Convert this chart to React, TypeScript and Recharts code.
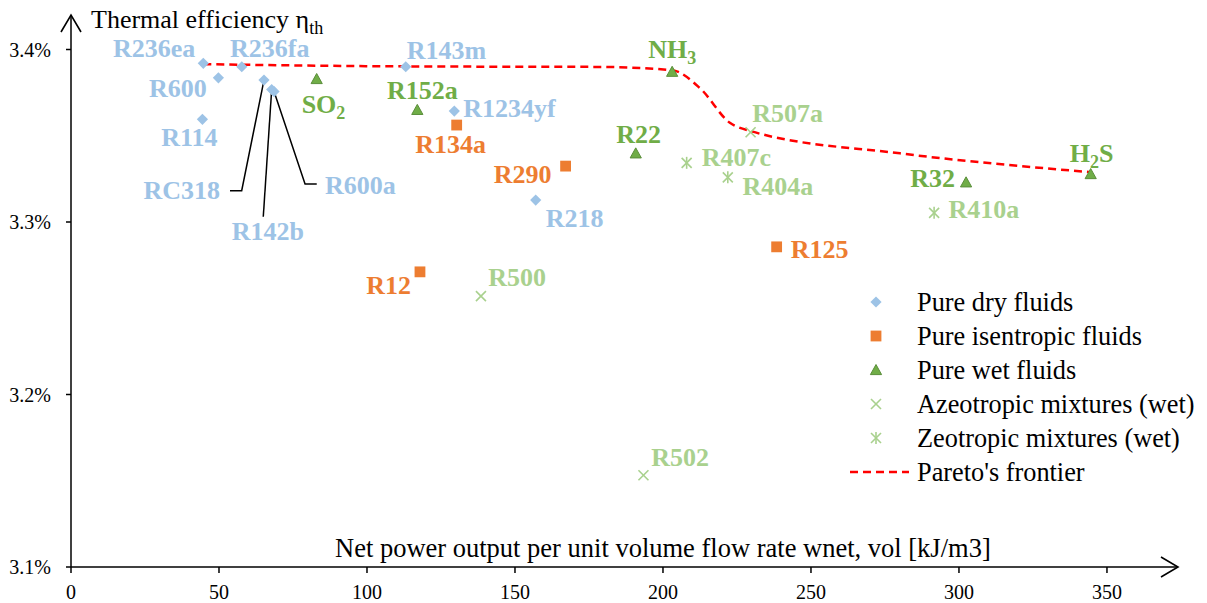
import React from 'react';
import { ComposedChart, Scatter, Line, XAxis, YAxis, ReferenceDot } from 'recharts';

const FONT = '"Liberation Serif", "Times New Roman", Times, serif';

// ---- data (x: net power output per unit volume flow [kJ/m3], y: thermal efficiency [%]) ----
const dryFluids = [
  { name: 'R236ea', x: 44.7, y: 3.392 },
  { name: 'R600', x: 49.8, y: 3.3836 },
  { name: 'R236fa', x: 57.7, y: 3.39 },
  { name: 'R114', x: 44.4, y: 3.3595 },
  { name: 'RC318', x: 65.2, y: 3.3823 },
  { name: 'R142b', x: 67.8, y: 3.3768 },
  { name: 'R600a', x: 68.6, y: 3.3756 },
  { name: 'R143m', x: 113.1, y: 3.39 },
  { name: 'R1234yf', x: 129.5, y: 3.3643 },
  { name: 'R218', x: 157.0, y: 3.3127 },
];
const isentropicFluids = [
  { name: 'R134a', x: 130.3, y: 3.3562 },
  { name: 'R290', x: 167.1, y: 3.3324 },
  { name: 'R12', x: 117.9, y: 3.2711 },
  { name: 'R125', x: 238.4, y: 3.2856 },
];
const wetFluids = [
  { name: 'SO2', x: 83.0, y: 3.3829 },
  { name: 'R152a', x: 117.0, y: 3.365 },
  { name: 'NH3', x: 203.1, y: 3.3871 },
  { name: 'R22', x: 190.8, y: 3.3398 },
  { name: 'R32', x: 302.4, y: 3.323 },
  { name: 'H2S', x: 344.5, y: 3.3278 },
];
const azeotropicMixtures = [
  { name: 'R507a', x: 229.6, y: 3.352 },
  { name: 'R500', x: 138.5, y: 3.257 },
  { name: 'R502', x: 193.4, y: 3.1532 },
];
const zeotropicMixtures = [
  { name: 'R407c', x: 208.0, y: 3.3343 },
  { name: 'R404a', x: 221.9, y: 3.3259 },
  { name: 'R410a', x: 291.6, y: 3.3053 },
];
const paretoFrontier = [
  { x: 44.7, y: 3.3915 },
  { x: 113.1, y: 3.3902 },
  { x: 178.7, y: 3.3899 },
  { x: 203.1, y: 3.388 },
  { x: 212.5, y: 3.3776 },
  { x: 222.6, y: 3.3575 },
  { x: 229.6, y: 3.3527 },
  { x: 280.1, y: 3.3398 },
  { x: 344.5, y: 3.3289 },
];
const xTicks = [0, 50, 100, 150, 200, 250, 300, 350];
const yTicks = [3.1, 3.2, 3.3, 3.4];
const X_MIN = 0;
const X_MAX = 374;
const Y_MIN = 3.1;
const Y_MAX = 3.42;

const legendItems = [
  { kind: 'diamond', label: 'Pure dry fluids' },
  { kind: 'square', label: 'Pure isentropic fluids' },
  { kind: 'triangle', label: 'Pure wet fluids' },
  { kind: 'cross', label: 'Azeotropic mixtures (wet)' },
  { kind: 'asterisk', label: 'Zeotropic mixtures (wet)' },
  { kind: 'dash', label: "Pareto's frontier" },
];

// ---- styles ----
const COLORS: Record<string, string> = {
  diamond: '#9DC3E6',
  square: '#ED7D31',
  triangle: '#70AD47',
  triangleEdge: '#5A8E3A',
  cross: '#A9D18E',
  asterisk: '#A9D18E',
  pareto: '#FF0000',
};

type Lay = { dx: number; dy: number; anchor: 'start' | 'middle' | 'end'; leader?: number[][] };
const labelLayout: Record<string, Lay> = {
  R236ea: { dx: -8, dy: -6, anchor: 'end' },
  R600: { dx: -11.6, dy: 19, anchor: 'end' },
  R236fa: { dx: -11.7, dy: -9.4, anchor: 'start' },
  R114: { dx: -13, dy: 26.4, anchor: 'middle' },
  R143m: { dx: 1, dy: -7.4, anchor: 'start' },
  SO2: { dx: -15, dy: 34, anchor: 'start' },
  R152a: { dx: 5, dy: -11, anchor: 'middle' },
  R1234yf: { dx: 9, dy: 5.7, anchor: 'start' },
  R134a: { dx: -6, dy: 28.3, anchor: 'middle' },
  RC318: { dx: -44, dy: 119.3, anchor: 'end', leader: [[-22.3, 110.7], [-34, 110.7]] },
  R142b: { dx: -3.7, dy: 150.5, anchor: 'middle', leader: [[-8.4, 127.2]] },
  R600a: { dx: 51, dy: 102.5, anchor: 'start', leader: [[31, 92.5], [42.7, 92.5]] },
  NH3: { dx: 0, dy: -13.4, anchor: 'middle' },
  R22: { dx: 3, dy: -10, anchor: 'middle' },
  R290: { dx: -14, dy: 16.7, anchor: 'end' },
  R218: { dx: 10, dy: 26.7, anchor: 'start' },
  R507a: { dx: 1.7, dy: -10.6, anchor: 'start' },
  R407c: { dx: 15, dy: 3, anchor: 'start' },
  R404a: { dx: 14.7, dy: 17.7, anchor: 'start' },
  R125: { dx: 14, dy: 11.3, anchor: 'start' },
  H2S: { dx: 1, dy: -11.7, anchor: 'middle' },
  R32: { dx: -11, dy: 4.4, anchor: 'end' },
  R410a: { dx: 14.3, dy: 5.6, anchor: 'start' },
  R12: { dx: -9, dy: 22.3, anchor: 'end' },
  R500: { dx: 7.3, dy: -10, anchor: 'start' },
  R502: { dx: 7.7, dy: -9, anchor: 'start' },
};

const SUBSCRIPTED: Record<string, [string, string, string]> = {
  SO2: ['SO', '2', ''],
  NH3: ['NH', '3', ''],
  H2S: ['H', '2', 'S'],
};

function Marker({ kind, cx, cy }: { kind: string; cx: number; cy: number }) {
  if (kind === 'diamond') {
    const r = 5.6;
    return <path d={`M${cx},${cy - r}L${cx + r},${cy}L${cx},${cy + r}L${cx - r},${cy}Z`} fill={COLORS.diamond} />;
  }
  if (kind === 'square') {
    const h = 5.4;
    return <rect x={cx - h} y={cy - h} width={2 * h} height={2 * h} fill={COLORS.square} />;
  }
  if (kind === 'triangle') {
    return (
      <path
        d={`M${cx},${cy - 5.5}L${cx + 5.6},${cy + 4.6}L${cx - 5.6},${cy + 4.6}Z`}
        fill={COLORS.triangle}
        stroke={COLORS.triangleEdge}
        strokeWidth={1}
      />
    );
  }
  if (kind === 'cross' || kind === 'asterisk') {
    const r = 5;
    return (
      <g stroke={COLORS.cross} strokeWidth={1.6}>
        <line x1={cx - r} y1={cy - r} x2={cx + r} y2={cy + r} />
        <line x1={cx - r} y1={cy + r} x2={cx + r} y2={cy - r} />
        {kind === 'asterisk' && <line x1={cx} y1={cy - r - 1} x2={cx} y2={cy + r + 1} />}
      </g>
    );
  }
  return null;
}

function makeShape(kind: string) {
  return (props: any) => {
    const { cx, cy, payload } = props;
    if (cx == null || cy == null || !payload) return <g />;
    const lay = labelLayout[payload.name] || { dx: 8, dy: -8, anchor: 'start' };
    const sub = SUBSCRIPTED[payload.name];
    const pts = lay.leader ? [[0, 0], ...lay.leader].map((p) => `${cx + p[0]},${cy + p[1]}`).join(' ') : null;
    return (
      <g>
        {pts && <polyline points={pts} fill="none" stroke="#000" strokeWidth={1.5} />}
        <Marker kind={kind} cx={cx} cy={cy} />
        <text
          x={cx + lay.dx}
          y={cy + lay.dy}
          textAnchor={lay.anchor}
          fill={COLORS[kind]}
          fontWeight="bold"
          fontSize={26}
          fontFamily={FONT}
        >
          {sub ? (
            <>
              {sub[0]}
              <tspan fontSize={18} dy={6}>
                {sub[1]}
              </tspan>
              {sub[2] ? <tspan dy={-6}>{sub[2]}</tspan> : null}
            </>
          ) : (
            payload.name
          )}
        </text>
      </g>
    );
  };
}

const ArrowRight = (props: any) => {
  const { cx, cy } = props;
  return <polyline points={`${cx - 17},${cy - 10} ${cx},${cy} ${cx - 17},${cy + 10}`} fill="none" stroke="#000" strokeWidth={1.6} />;
};
const ArrowUp = (props: any) => {
  const { cx, cy } = props;
  return <polyline points={`${cx - 10},${cy + 17} ${cx},${cy} ${cx + 10},${cy + 17}`} fill="none" stroke="#000" strokeWidth={1.6} />;
};

const XTitle = (p: any) => {
  const vb = p.viewBox || { x: 71, y: 567, width: 1107 };
  return (
    <text x={vb.x + 264} y={vb.y - 10} fontSize={26.5} fontFamily={FONT} fill="#000">
      Net power output per unit volume flow rate wnet, vol [kJ/m3]
    </text>
  );
};
const YTitle = (p: any) => {
  const vb = p.viewBox || { x: 11, y: 15, width: 60 };
  return (
    <text x={vb.x + vb.width + 20} y={vb.y + 13} fontSize={26} fontFamily={FONT} fill="#000">
      Thermal efficiency η
      <tspan fontSize={18} dy={6}>
        th
      </tspan>
    </text>
  );
};

function LegendOverlay() {
  const x0 = 876;
  const tx = 917;
  const y0 = 302;
  const step = 34;
  return (
    <svg width={1207} height={603} style={{ position: 'absolute', left: 0, top: 0, pointerEvents: 'none' }}>
      {legendItems.map((it, i) => {
        const cy = y0 + i * step;
        return (
          <g key={it.label}>
            {it.kind === 'dash' ? (
              <line x1={850} y1={cy} x2={909} y2={cy} stroke={COLORS.pareto} strokeWidth={2.5} strokeDasharray="8 5" />
            ) : (
              <Marker kind={it.kind} cx={x0} cy={cy} />
            )}
            <text x={tx} y={cy + 8.5} fontSize={26.3} fontFamily={FONT} fill="#000">
              {it.label}
            </text>
          </g>
        );
      })}
    </svg>
  );
}

export default function App() {
  const tickStyle = { fontSize: 20, fontFamily: FONT, fill: '#000' };
  return (
    <div style={{ position: 'absolute', left: 0, top: 0, width: 1207, height: 603, background: '#fff' }}>
      <ComposedChart width={1207} height={603} margin={{ top: 15, right: 29, left: 11, bottom: 6 }} style={{ fontFamily: FONT }}>
        <XAxis
          type="number"
          dataKey="x"
          domain={[X_MIN, X_MAX]}
          ticks={xTicks}
          allowDataOverflow
          height={30}
          tickSize={6}
          tickMargin={12}
          tick={tickStyle}
          axisLine={{ stroke: '#000', strokeWidth: 1.5 }}
          tickLine={{ stroke: '#000', strokeWidth: 1.5 }}
          label={{ content: XTitle } as any}
        />
        <YAxis
          type="number"
          dataKey="y"
          domain={[Y_MIN, Y_MAX]}
          ticks={yTicks}
          allowDataOverflow
          width={60}
          tickSize={5}
          tickMargin={15}
          tick={tickStyle}
          tickFormatter={(v: number) => `${v.toFixed(1)}%`}
          axisLine={{ stroke: '#000', strokeWidth: 1.5 }}
          tickLine={{ stroke: '#000', strokeWidth: 1.5 }}
          label={{ content: YTitle } as any}
        />
        <Line
          data={paretoFrontier}
          dataKey="y"
          type="monotone"
          stroke={COLORS.pareto}
          strokeWidth={2.5}
          strokeDasharray="8 5"
          dot={false}
          activeDot={false}
          isAnimationActive={false}
        />
        <Scatter name="Pure dry fluids" data={dryFluids} shape={makeShape('diamond')} isAnimationActive={false} />
        <Scatter name="Pure isentropic fluids" data={isentropicFluids} shape={makeShape('square')} isAnimationActive={false} />
        <Scatter name="Pure wet fluids" data={wetFluids} shape={makeShape('triangle')} isAnimationActive={false} />
        <Scatter name="Azeotropic mixtures (wet)" data={azeotropicMixtures} shape={makeShape('cross')} isAnimationActive={false} />
        <Scatter name="Zeotropic mixtures (wet)" data={zeotropicMixtures} shape={makeShape('asterisk')} isAnimationActive={false} />
        <ReferenceDot x={X_MAX} y={Y_MIN} r={0} shape={ArrowRight} ifOverflow="visible" />
        <ReferenceDot x={X_MIN} y={Y_MAX} r={0} shape={ArrowUp} ifOverflow="visible" />
      </ComposedChart>
      <LegendOverlay />
    </div>
  );
}
